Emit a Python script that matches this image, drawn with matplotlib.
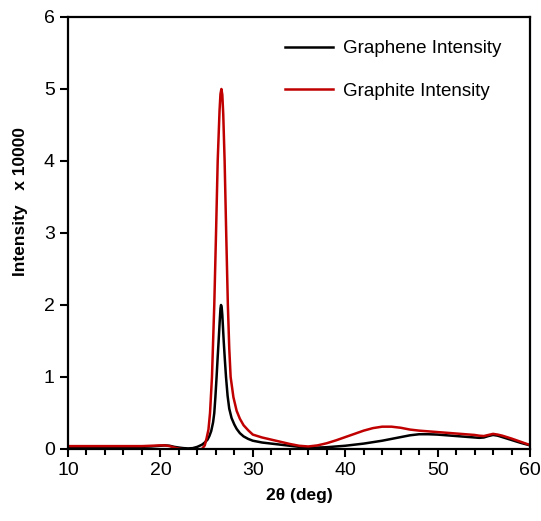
import matplotlib
matplotlib.use("Agg")
import matplotlib.pyplot as plt
from matplotlib.ticker import MultipleLocator
from matplotlib import font_manager

names = {f.name for f in font_manager.fontManager.ttflist}
fam = 'Liberation Sans Narrow' if 'Liberation Sans Narrow' in names else 'Liberation Sans'
plt.rcParams['font.family'] = [fam, 'DejaVu Sans']

# Graphene (black) sampled curve
graphene_x = [10, 12, 14, 16, 18, 19, 20, 20.5, 21, 21.5, 22, 22.5, 23, 23.5, 24, 24.5,
              24.8, 25.1, 25.3, 25.5, 25.7, 25.83, 25.95, 26.08, 26.2, 26.3, 26.43, 26.5, 26.56,
              26.63, 26.7, 26.85, 26.97, 27.1, 27.27, 27.45, 27.7, 28.0, 28.25, 28.6, 29, 29.5, 30,
              31, 32, 33, 34, 35, 36, 37, 38, 39, 40, 41, 42, 43, 44, 45, 46, 47, 48, 49,
              50, 51, 52, 53, 54, 54.5, 55, 55.5, 56, 56.5, 57, 58, 59, 60]
graphene = [0.03, 0.03, 0.03, 0.03, 0.03, 0.035, 0.045, 0.05, 0.045, 0.03, 0.02, 0.012, 0.008, 0.012, 0.03, 0.06,
            0.09, 0.13, 0.18, 0.25, 0.37, 0.5, 0.72, 1.0, 1.28, 1.5, 1.8, 1.95, 2.0,
            1.97, 1.86, 1.5, 1.25, 1.0, 0.74, 0.56, 0.43, 0.34, 0.28, 0.22, 0.175, 0.14, 0.115,
            0.09, 0.075, 0.06, 0.045, 0.03, 0.02, 0.02, 0.025, 0.035, 0.045, 0.06, 0.075, 0.095, 0.115, 0.14, 0.165,
            0.19, 0.205, 0.205, 0.2, 0.19, 0.18, 0.17, 0.16, 0.155, 0.16, 0.18, 0.195, 0.185, 0.165, 0.125, 0.085, 0.05]

# Graphite (red) sampled curve
graphite_x = [10, 12, 14, 16, 18, 19, 20, 20.5, 21, 21.5, 22, 22.5, 23, 23.5, 24, 24.5,
              24.8, 25.0, 25.2, 25.37, 25.58, 25.83, 26.02, 26.2, 26.4, 26.5, 26.6, 26.7, 26.8, 26.95,
              27.12, 27.3, 27.45, 27.6, 27.9, 28.25, 28.6, 29, 29.5, 30, 31, 32, 33, 34, 35, 36,
              37, 38, 39, 40, 41, 42, 43, 44, 45, 46, 47, 48, 49, 50, 51, 52, 53, 54, 54.5,
              55, 55.5, 56, 56.5, 57, 58, 59, 60]
graphite = [0.04, 0.04, 0.04, 0.04, 0.04, 0.045, 0.05, 0.05, 0.04, 0.02, 0.005, -0.005, -0.01, -0.01, -0.005, 0.0,
            0.05, 0.15, 0.27, 0.5, 1.0, 2.0, 3.0, 4.0, 4.7, 4.93, 5.0, 4.92, 4.65, 4.0,
            3.0, 2.0, 1.4, 1.0, 0.72, 0.53, 0.42, 0.33, 0.26, 0.2, 0.16, 0.13, 0.1, 0.07, 0.045, 0.035,
            0.05, 0.08, 0.12, 0.165, 0.21, 0.255, 0.29, 0.31, 0.31, 0.295, 0.27, 0.255, 0.245, 0.235, 0.225, 0.215, 0.205, 0.195, 0.185,
            0.18, 0.195, 0.21, 0.2, 0.185, 0.145, 0.1, 0.055]

fig = plt.figure(figsize=(5.41, 5.21), dpi=100)
ax = fig.add_axes([0.1257, 0.1382, 0.854, 0.8292])

ax.plot(graphene_x, graphene, color='black', lw=1.8, label='Graphene Intensity')
ax.plot(graphite_x, graphite, color='#c00000', lw=1.8, label='Graphite Intensity')

ax.set_xlim(10, 60)
ax.set_ylim(0, 6)
ax.xaxis.set_major_locator(MultipleLocator(10))
ax.xaxis.set_minor_locator(MultipleLocator(2))
ax.yaxis.set_major_locator(MultipleLocator(1))
for s in ax.spines.values():
    s.set_linewidth(1.6)
ax.tick_params(axis='both', which='major', direction='out', length=6, width=1.5, labelsize=14)
ax.tick_params(axis='x', which='minor', direction='out', length=4, width=1.5)

ax.set_xlabel('2θ (deg)', fontsize=12.5, fontweight='bold', labelpad=6)
ax.set_ylabel('Intensity   x 10000', fontsize=12.5, fontweight='bold')
ax.yaxis.set_label_coords(-0.087, 0.572)

leg = ax.legend(loc='upper left', frameon=False, fontsize=13.5, handlelength=2.55,
                handletextpad=0.55, labelspacing=1.35, borderpad=0, borderaxespad=0,
                bbox_to_anchor=(0.47, 0.946))

fig.savefig('out.png', dpi=100)
